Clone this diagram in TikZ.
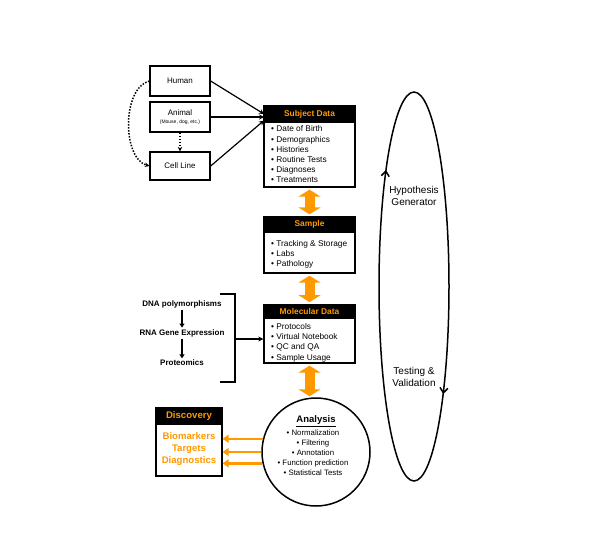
\documentclass[tikz,border=0pt]{standalone}
\usepackage{fontspec}
\setmainfont{Liberation Sans}
\usetikzlibrary{arrows.meta,calc}
\definecolor{org}{HTML}{FF9900}
\begin{document}
\begin{tikzpicture}[x=1pt,y=-1pt,
  box/.style={draw, line width=1.3pt, inner sep=0pt, rectangle},
  hdr/.style={fill=black, draw=black, line width=1.3pt, text=org, inner sep=0pt, font=\bfseries\fontsize{8.4}{9}\selectfont},
  src/.style={box, minimum width=60pt, font=\fontsize{8}{9}\selectfont, align=center},
  itm/.style={anchor=west, inner sep=0pt, align=left},
  omic/.style={inner sep=0pt, font=\bfseries\fontsize{8}{9}\selectfont},
  blk/.style={-{Stealth[length=5pt,width=5pt]}, line width=1.2pt},
  dot/.style={line width=1.5pt, dash pattern=on 1.5pt off 1.5pt, -{Stealth[length=4.5pt,width=4.5pt]}},
  dbl/.style={org, line width=10pt, {Triangle[length=7pt,width=22pt]}-{Triangle[length=7pt,width=22pt]}},
  oar/.style={org, line width=2.5pt, -{Triangle[length=6pt,width=8pt]}},
  note/.style={inner sep=0pt, align=center, font=\fontsize{10}{12}\selectfont}
]
\useasboundingbox (0,0) rectangle (600,550);

% source boxes
\node[src, minimum height=30pt] (human) at (180,81) {Human};
\node[src, minimum height=30pt] (animal) at (180,117) {Animal\\[-1pt]{\fontsize{5}{6}\selectfont (Mouse, dog, etc.)}};
\node[src, minimum height=28pt] (cell) at (180,166) {Cell Line};

% subject data
\node[box, minimum width=91pt, minimum height=81pt] (subj) at (309.5,146.5) {};
\node[hdr, minimum width=91pt, minimum height=16pt] (subjh) at (309.5,114) {Subject Data};
\node[itm, font=\fontsize{8.3}{10.2}\selectfont] (subji) at (271,154.5) {• Date of Birth\\• Demographics\\• Histories\\• Routine Tests\\• Diagnoses\\• Treatments};

% sample
\node[box, minimum width=91pt, minimum height=56pt] (sample) at (309.5,245) {};
\node[hdr, minimum width=91pt, minimum height=15pt] (sampleh) at (309.5,224.5) {Sample};
\node[itm, font=\fontsize{8.3}{10}\selectfont] (samplei) at (271,254) {• Tracking \& Storage\\• Labs\\• Pathology};

% molecular data
\node[box, minimum width=91pt, minimum height=58pt] (mol) at (309.5,334) {};
\node[hdr, minimum width=91pt, minimum height=13.5pt] (molh) at (309.5,311.5) {Molecular Data};
\node[itm, font=\fontsize{8.3}{10.3}\selectfont] (moli) at (271,342.5) {• Protocols\\• Virtual Notebook\\• QC and QA\\• Sample Usage};

% analysis
\node[circle, draw, line width=1.5pt, minimum size=108pt, inner sep=0pt] (ana) at (316,452) {};
\node[inner sep=0pt, font=\bfseries\fontsize{9.5}{10}\selectfont] (anat) at (316,421) {\underline{Analysis}};
\node[inner sep=0pt, align=center, font=\fontsize{7.8}{10}\selectfont] (anai) at (313,453) {• Normalization\\• Filtering\\• Annotation\\• Function prediction\\• Statistical Tests};

% discovery
\node[box, minimum width=66pt, minimum height=68pt] (disc) at (189,442) {};
\node[hdr, minimum width=66pt, minimum height=16pt, font=\bfseries\fontsize{9.6}{10}\selectfont] (disch) at (189,416) {Discovery};
\node[inner sep=0pt, align=center, text=org, font=\bfseries\fontsize{9.6}{12}\selectfont] (disci) at (189,449) {Biomarkers\\Targets\\Diagnostics};

% omics
\node[omic] (dna) at (182,304) {DNA polymorphisms};
\node[omic] (rna) at (182,333) {RNA Gene Expression};
\node[omic] (prot) at (182,363) {Proteomics};

% cycle
\node[note] (hyp) at (414,196) {Hypothesis\\Generator};
\node[note] (test) at (414,377) {Testing \&\\Validation};

% coordinates
\coordinate (in1) at (264,114);
\coordinate (in2) at (264,117);
\coordinate (in3) at (264,120.5);
\coordinate (bt) at (220,294);
\coordinate (bb) at (220,382);
\coordinate (bm) at (235,339);

% connectors: sources
\draw[blk] (human.east) -- (in1);
\draw[blk] (animal.east) -- (in2);
\draw[blk] (cell.east) -- (in3);
\draw[dot] (animal.south) -- (cell.north);
\draw[dot] (human.west) .. controls (122,88) and (122,158) .. (cell.west);

% orange double arrows
\draw[dbl, shorten <=2pt, shorten >=2pt] (subj.south) -- (sampleh.north);
\draw[dbl, shorten <=2pt, shorten >=2pt] (sample.south) -- (molh.north);
\draw[dbl, shorten <=2pt, shorten >=1pt] (mol.south) -- (mol.south |- ana.north);

% analysis -> discovery
\draw[oar] (ana.166) -- (ana.166 -| disc.east);
\draw[oar] (ana.180) -- (ana.180 -| disc.east);
\draw[oar] (ana.192) -- (ana.192 -| disc.east);

% omics arrows and bracket
\draw[-{Triangle[length=4pt,width=5pt]}, line width=1.8pt, shorten <=2pt, shorten >=1.5pt] (dna.south) -- (rna.north);
\draw[-{Triangle[length=4pt,width=5pt]}, line width=1.8pt, shorten <=2pt, shorten >=1.5pt] (rna.south) -- (prot.north);
\draw[line width=1.3pt] (bt) -- (bt -| bm) -- (bb -| bm) -- (bb);
\draw[blk] (bm) -- (bm -| mol.west);

% hypothesis cycle
\draw[line width=1.5pt] (414,286.5) ellipse [x radius=35pt, y radius=194.5pt];
\draw[line width=1.5pt, -{Straight Barb[length=5pt,width=8pt]}] (385.5,174) -- (386,170);
\draw[line width=1.5pt, -{Straight Barb[length=5pt,width=8pt]}] (443.7,390) -- (443.2,394);
\end{tikzpicture}
\end{document}
